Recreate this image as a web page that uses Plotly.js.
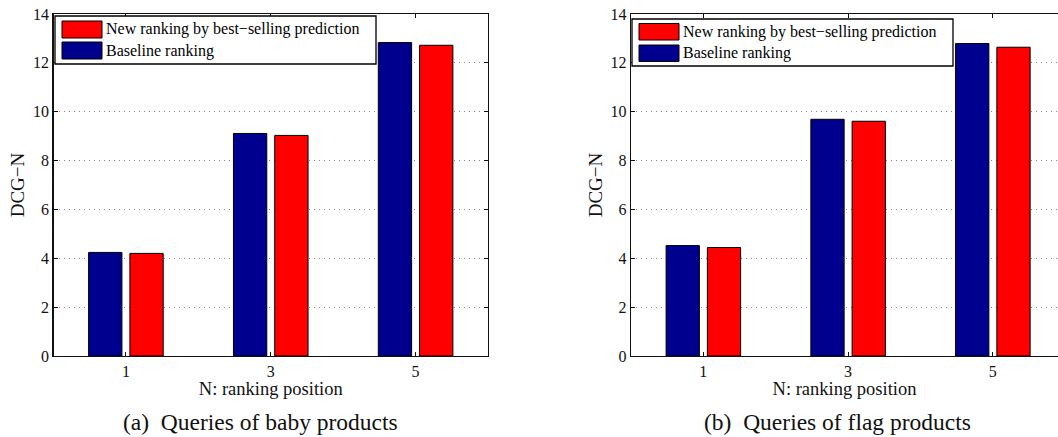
<!DOCTYPE html>
<html>
<head>
<meta charset="utf-8">
<script src="https://cdn.plot.ly/plotly-3.0.1.min.js"></script>
<style>html,body{margin:0;padding:0;background:#fff;}#chart{width:1058px;height:437px;}</style>
</head>
<body>
<div id="chart"></div>
<script>
// ---- data ----
const positions = [1, 3, 5];
const tickLabels = ['1', '3', '5'];
const seriesNew = 'New ranking by best\u2212selling prediction';
const seriesBase = 'Baseline ranking';
const babyBaseline = [4.24, 9.11, 12.83];
const babyNew = [4.20, 9.03, 12.72];
const flagBaseline = [4.52, 9.69, 12.79];
const flagNew = [4.44, 9.61, 12.64];
const captions = ['(a)\u00a0 Queries of baby products', '(b)\u00a0 Queries of flag products'];
const xTitle = 'N: ranking position';
const yTitle = 'DCG\u2212N';

// ---- style ----
const W = 1058, H = 437;
const BLUE = '#00008f', RED = '#ff0000';
const FONT = 'Liberation Serif, Times New Roman, serif';
const px = v => v / W;
const py = v => 1 - v / H;

function bar(x, y, name, color, xa, ya) {
  return {type: 'bar', x: x, y: y, name: name, xaxis: xa, yaxis: ya,
    marker: {color: color, line: {color: '#000', width: 1}}, showlegend: false,
    hoverinfo: 'y'};
}

const traces = [
  bar(positions, babyBaseline, seriesBase, BLUE, 'x', 'y'),
  bar(positions, babyNew, seriesNew, RED, 'x', 'y'),
  bar(positions, flagBaseline, seriesBase, BLUE, 'x2', 'y2'),
  bar(positions, flagNew, seriesNew, RED, 'x2', 'y2')
];

function xax(domain, range, anchor) {
  return {domain: domain, range: range, anchor: anchor, tickvals: positions, ticktext: tickLabels,
    ticks: 'inside', ticklen: 4, tickcolor: '#111', showline: true, linecolor: '#111', linewidth: 1.3,
    mirror: 'ticks', showgrid: false, zeroline: false, fixedrange: true,
    tickfont: {family: FONT, size: 16, color: '#111'},
    title: {text: xTitle, font: {family: FONT, size: 18.5, color: '#111'}, standoff: 0}};
}
function yax(domain, anchor, mirror) {
  return {domain: domain, range: [0, 14], anchor: anchor, dtick: 2, tick0: 0,
    ticks: 'inside', ticklen: 4, tickcolor: '#111', showline: true, linecolor: '#111', linewidth: 1.3,
    mirror: mirror, showgrid: true, gridcolor: '#8a8a8a', griddash: '1px,4px', gridwidth: 1,
    zeroline: false, fixedrange: true,
    tickfont: {family: FONT, size: 16, color: '#111'},
    title: {text: yTitle, font: {family: FONT, size: 19, color: '#111'}, standoff: 3}};
}

const yDom = [1 - 356 / H, 1 - 14 / H];

// custom legends (MATLAB-style wide patches)
const shapes = [];
const annotations = [];
function legend(x0, x1, y0, y1, patchX0, patchX1, rows) {
  shapes.push({type: 'rect', xref: 'paper', yref: 'paper', x0: px(x0), x1: px(x1), y0: py(y1), y1: py(y0),
    line: {color: '#000', width: 1.3}, fillcolor: '#fff', layer: 'above'});
  rows.forEach(r => {
    shapes.push({type: 'rect', xref: 'paper', yref: 'paper', x0: px(patchX0), x1: px(patchX1),
      y0: py(r.yb), y1: py(r.yt), line: {color: '#000', width: 1}, fillcolor: r.color, layer: 'above'});
    annotations.push({xref: 'paper', yref: 'paper', x: px(patchX1 + 2), y: py((r.yt + r.yb) / 2),
      xanchor: 'left', yanchor: 'middle', text: r.name, showarrow: false,
      font: {family: FONT, size: 16, color: '#000'}});
  });
}
legend(55, 376, 16, 64, 62, 102, [
  {name: seriesNew, color: RED, yt: 21, yb: 38},
  {name: seriesBase, color: BLUE, yt: 42, yb: 59}]);
legend(632, 953, 19, 66, 639, 679, [
  {name: seriesNew, color: RED, yt: 23.5, yb: 40},
  {name: seriesBase, color: BLUE, yt: 45, yb: 61.5}]);

[[captions[0], 260], [captions[1], 837]].forEach(c => {
  annotations.push({xref: 'paper', yref: 'paper', x: px(c[1]), y: py(422), xanchor: 'center', yanchor: 'middle',
    text: c[0], showarrow: false, font: {family: FONT, size: 23.5, color: '#111'}});
});

const layout = {
  width: W, height: H, margin: {l: 0, r: 0, t: 0, b: 0},
  paper_bgcolor: '#fff', plot_bgcolor: '#fff',
  barmode: 'group', bargap: 0.43, bargroupgap: 0.193,
  xaxis: xax([53.5 / W, 488 / W], [0, 6], 'y'),
  yaxis: yax(yDom, 'x', 'ticks'),
  xaxis2: xax([631 / W, 1], [0, 5.9], 'y2'),
  yaxis2: yax(yDom, 'x2', false),
  shapes: shapes, annotations: annotations, showlegend: false
};

Plotly.newPlot('chart', traces, layout, {displayModeBar: false, staticPlot: true});
</script>
</body>
</html>
